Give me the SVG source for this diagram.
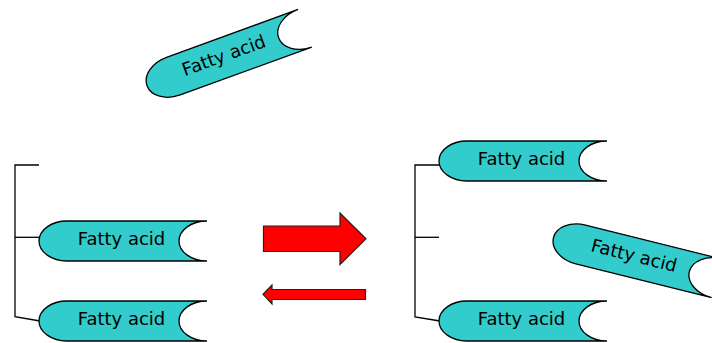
<svg xmlns="http://www.w3.org/2000/svg" xmlns:xlink="http://www.w3.org/1999/xlink" width="712" height="343" viewBox="0 0 712 343">
<style>
.fa{fill:#33CCCC;stroke:#000;stroke-width:1.3}
.lbl{font-family:"DejaVu Sans","Verdana",sans-serif;font-size:18px;fill:#000;text-anchor:middle}
.ln{stroke:#000;stroke-width:1.3;fill:none}
.arr{fill:#FF0000;stroke:#222;stroke-width:1.2;stroke-linejoin:miter}
</style>
<defs>
<path id="fashape" d="M -56,-20 L 84,-20 A 28 20 0 0 0 84,20 L -56,20 A 28 20 0 0 1 -56,-20 Z"/>
</defs>
<rect width="712" height="343" fill="#fff"/>
<g id="connectors">
<polyline class="ln" points="39,165 15,165 15,316.7 40,321"/>
<line class="ln" x1="15" y1="237.3" x2="40" y2="237.3"/>
<polyline class="ln" points="440,165 415,165 415,317 440,321"/>
<line class="ln" x1="415" y1="237.3" x2="439" y2="237.3"/>
</g>
<g id="fa-top-free" transform="translate(226,57) rotate(-20)">
<use xlink:href="#fashape" class="fa"/>
<text class="lbl" x="-1.5" y="4">Fatty acid</text>
</g>
<g id="fa-left-mid" transform="translate(123,241)">
<use xlink:href="#fashape" class="fa"/>
<text class="lbl" x="-1.5" y="4">Fatty acid</text>
</g>
<g id="fa-left-bottom" transform="translate(123,321)">
<use xlink:href="#fashape" class="fa"/>
<text class="lbl" x="-1.5" y="4">Fatty acid</text>
</g>
<g id="fa-right-top" transform="translate(523,161)">
<use xlink:href="#fashape" class="fa"/>
<text class="lbl" x="-1.5" y="4">Fatty acid</text>
</g>
<g id="fa-right-free" transform="translate(635,258) rotate(14)">
<use xlink:href="#fashape" class="fa"/>
<text class="lbl" x="-1.5" y="4">Fatty acid</text>
</g>
<g id="fa-right-bottom" transform="translate(523,321)">
<use xlink:href="#fashape" class="fa"/>
<text class="lbl" x="-1.5" y="4">Fatty acid</text>
</g>
<g id="arrows">
<polygon id="arrow-forward" class="arr" points="263.5,226 340,226 340,213 366,238.8 340,264.5 340,251.5 263.5,251.5"/>
<polygon id="arrow-reverse" class="arr" points="365.5,289.5 272,289.5 272,285 263,294.3 272,304 272,299.5 365.5,299.5"/>
</g>
</svg>
